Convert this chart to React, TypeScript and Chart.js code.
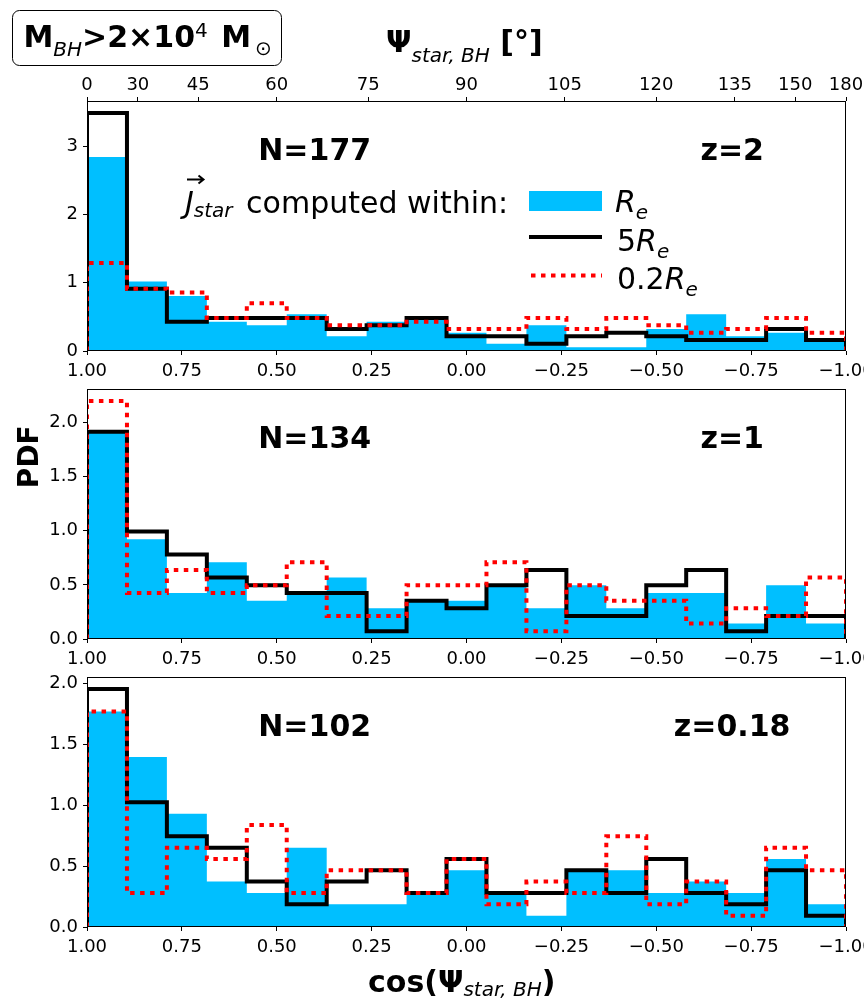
import React, { useEffect, useRef } from "react"
import { Chart, registerables } from "chart.js"

Chart.register(...registerables)

const FONT = '"DejaVu Sans", sans-serif'

// 19 equal bins in cos(psi), from 1 down to -1
const binEdges = [
  1, 0.8947, 0.7895, 0.6842, 0.5789, 0.4737, 0.3684, 0.2632, 0.1579, 0.0526,
  -0.0526, -0.1579, -0.2632, -0.3684, -0.4737, -0.5789, -0.6842, -0.7895, -0.8947, -1,
]

const cosTicks = [1, 0.75, 0.5, 0.25, 0, -0.25, -0.5, -0.75, -1]
const angleTicks = [0, 30, 45, 60, 75, 90, 105, 120, 135, 150, 180]

// z = 2, N = 177
const reZ2 = [2.845, 1.02, 0.805, 0.429, 0.376, 0.537, 0.215, 0.429, 0.483, 0.268, 0.107, 0.376, 0.054, 0.054, 0.322, 0.537, 0.215, 0.268, 0.161]
const fiveReZ2 = [3.489, 0.912, 0.429, 0.483, 0.483, 0.483, 0.322, 0.376, 0.483, 0.215, 0.215, 0.107, 0.215, 0.268, 0.215, 0.161, 0.161, 0.322, 0.161]
const pointTwoReZ2 = [1.288, 0.912, 0.859, 0.483, 0.698, 0.483, 0.376, 0.376, 0.429, 0.322, 0.322, 0.483, 0.322, 0.483, 0.376, 0.268, 0.322, 0.483, 0.268]
const yTicksZ2 = [0, 1, 2, 3]

// z = 1, N = 134
const reZ1 = [1.914, 0.922, 0.425, 0.709, 0.354, 0.425, 0.567, 0.284, 0.354, 0.354, 0.496, 0.284, 0.496, 0.284, 0.425, 0.425, 0.142, 0.496, 0.142]
const fiveReZ1 = [1.914, 0.993, 0.78, 0.567, 0.496, 0.425, 0.425, 0.071, 0.354, 0.284, 0.496, 0.638, 0.213, 0.213, 0.496, 0.638, 0.071, 0.213, 0.213]
const pointTwoReZ1 = [2.198, 0.425, 0.638, 0.425, 0.496, 0.709, 0.213, 0.213, 0.496, 0.496, 0.709, 0.071, 0.496, 0.354, 0.354, 0.142, 0.284, 0.213, 0.567]
const yTicksZ1 = [0, 0.5, 1, 1.5, 2]

// z = 0.18, N = 102
const reZ018 = [1.77, 1.397, 0.931, 0.373, 0.279, 0.652, 0.186, 0.186, 0.279, 0.466, 0.279, 0.093, 0.466, 0.466, 0.279, 0.373, 0.279, 0.559, 0.186]
const fiveReZ018 = [1.956, 1.025, 0.745, 0.652, 0.373, 0.186, 0.373, 0.466, 0.279, 0.559, 0.279, 0.279, 0.466, 0.279, 0.559, 0.279, 0.186, 0.466, 0.093]
const pointTwoReZ018 = [1.77, 0.279, 0.652, 0.559, 0.838, 0.279, 0.466, 0.466, 0.279, 0.559, 0.186, 0.373, 0.279, 0.745, 0.186, 0.373, 0.093, 0.652, 0.466]
const yTicksZ018 = [0, 0.5, 1, 1.5, 2]

const B30 = `bold 30px ${FONT}`
const B28 = `bold 28px ${FONT}`
const R30 = `30px ${FONT}`
const I30 = `italic 30px ${FONT}`
const I20 = `italic 20px ${FONT}`
const R20 = `20px ${FONT}`
const DOTS = [4.5, 5.5]

type Run = { t: string; font: string; dy?: number; dx?: number }

function drawRuns(ctx: CanvasRenderingContext2D, x: number, y: number, runs: Run[], center = false) {
  ctx.save()
  ctx.fillStyle = "#000"
  ctx.textAlign = "left"
  ctx.textBaseline = "alphabetic"
  let w = 0
  for (const r of runs) {
    ctx.font = r.font
    w += ctx.measureText(r.t).width + (r.dx || 0)
  }
  let cx = center ? x - w / 2 : x
  for (const r of runs) {
    ctx.font = r.font
    cx += r.dx || 0
    ctx.fillText(r.t, cx, y + (r.dy || 0))
    cx += ctx.measureText(r.t).width
  }
  ctx.restore()
}

// histogram outline: start and end on the baseline
function steps(vals: number[]) {
  const pts = [{ x: binEdges[0], y: 0 }]
  vals.forEach((v, i) => pts.push({ x: binEdges[i], y: v }))
  pts.push({ x: binEdges[vals.length], y: vals[vals.length - 1] })
  pts.push({ x: binEdges[vals.length], y: 0 })
  return pts
}

const fmtCos = (v: number) => (v < 0 ? "\u2212" : "") + Math.abs(v).toFixed(2)

function drawTopExtras(ctx: CanvasRenderingContext2D) {
  // mass cut box
  ctx.save()
  ctx.beginPath()
  ctx.roundRect(12.5, 10.5, 269, 55, 7)
  ctx.fillStyle = "#fff"
  ctx.fill()
  ctx.lineWidth = 1
  ctx.strokeStyle = "#000"
  ctx.stroke()
  ctx.restore()
  drawRuns(ctx, 23.5, 47, [
    { t: "M", font: B30 },
    { t: "BH", font: I20, dy: 9 },
    { t: ">2\u00d710", font: B30 },
    { t: "4", font: R20, dy: -10 },
    { t: " M", font: B30, dx: 3 },
    { t: "\u2299", font: R20, dy: 8, dx: 4 },
  ])
  // top axis title
  drawRuns(ctx, 386, 51.5, [
    { t: "\u03a8", font: B30 },
    { t: "star, BH", font: I20, dy: 10 },
    { t: " [\u00b0]", font: B30 },
  ])

  // legend
  ctx.save()
  ctx.fillStyle = "#00BFFF"
  ctx.fillRect(529, 191, 73, 20)
  ctx.strokeStyle = "#000"
  ctx.lineWidth = 4
  ctx.beginPath()
  ctx.moveTo(529, 237)
  ctx.lineTo(602, 237)
  ctx.stroke()
  ctx.strokeStyle = "#FF0000"
  ctx.setLineDash(DOTS)
  ctx.lineCap = "butt"
  ctx.beginPath()
  ctx.moveTo(531, 275.5)
  ctx.lineTo(602, 275.5)
  ctx.stroke()
  ctx.setLineDash([])
  // arrow over J
  ctx.strokeStyle = "#000"
  ctx.lineWidth = 2
  ctx.beginPath()
  ctx.moveTo(187, 179.5)
  ctx.lineTo(203, 179.5)
  ctx.moveTo(198.5, 175.5)
  ctx.lineTo(203.5, 179.5)
  ctx.lineTo(198.5, 183.5)
  ctx.stroke()
  ctx.restore()

  drawRuns(ctx, 185, 213, [
    { t: "J", font: I30 },
    { t: "star", font: I20, dy: 4 },
    { t: " computed within:", font: R30, dx: 4 },
  ])
  drawRuns(ctx, 615, 212, [{ t: "R", font: I30 }, { t: "e", font: I20, dy: 7 }])
  drawRuns(ctx, 617, 250.5, [{ t: "5", font: R30 }, { t: "R", font: I30 }, { t: "e", font: I20, dy: 7 }])
  drawRuns(ctx, 617, 289, [{ t: "0.2", font: R30 }, { t: "R", font: I30 }, { t: "e", font: I20, dy: 7 }])
}

function drawPdfLabel(ctx: CanvasRenderingContext2D) {
  ctx.save()
  ctx.translate(37.7, 76.7)
  ctx.rotate(-Math.PI / 2)
  ctx.font = B28
  ctx.fillStyle = "#000"
  ctx.textAlign = "center"
  ctx.textBaseline = "alphabetic"
  ctx.fillText("PDF", 0, 0)
  ctx.restore()
}

function drawBottomTitle(ctx: CanvasRenderingContext2D) {
  drawRuns(ctx, 368, 323.5, [
    { t: "cos(", font: B30 },
    { t: "\u03a8", font: B30 },
    { t: "star, BH", font: I20, dy: 4 },
    { t: ")", font: B30 },
  ])
}

interface PanelProps {
  top: number
  height: number
  padTop: number
  bottomAxis: number
  re: number[]
  fiveRe: number[]
  pointTwoRe: number[]
  yMax: number
  yTicks: number[]
  yDigits: number
  nText: string
  zText: string
  angleAxis?: boolean
  extra?: (ctx: CanvasRenderingContext2D) => void
}

function Panel(props: PanelProps) {
  const ref = useRef<HTMLCanvasElement>(null)
  const { top, height, padTop, bottomAxis, re, fiveRe, pointTwoRe, yMax, yTicks, yDigits, nText, zText, angleAxis, extra } = props

  useEffect(() => {
    if (!ref.current) return

    const tickFont = { family: FONT, size: 18 }
    const tickGrid = { display: true, drawOnChartArea: false, drawTicks: true, tickLength: 4, tickColor: "#000", tickWidth: 1 }

    const scales: any = {
      x: {
        type: "linear",
        position: "bottom",
        min: -1,
        max: 1,
        reverse: true,
        afterBuildTicks: (s: any) => {
          s.ticks = cosTicks.map((v) => ({ value: v }))
        },
        afterFit: (s: any) => {
          s.height = bottomAxis
          s.paddingLeft = 0
          s.paddingRight = 0
        },
        ticks: { autoSkip: false, maxRotation: 0, minRotation: 0, padding: 6, color: "#000", font: tickFont, callback: (v: number) => fmtCos(v) },
        grid: tickGrid,
        border: { display: false },
      },
      y: {
        type: "linear",
        position: "left",
        min: 0,
        max: yMax,
        afterBuildTicks: (s: any) => {
          s.ticks = yTicks.map((v) => ({ value: v }))
        },
        afterFit: (s: any) => {
          s.width = 87
          s.paddingTop = 0
          s.paddingBottom = 0
        },
        ticks: { padding: 5, color: "#000", font: tickFont, callback: (v: number) => v.toFixed(yDigits) },
        grid: tickGrid,
        border: { display: false },
      },
    }
    if (angleAxis) {
      scales.xTop = {
        type: "linear",
        position: "top",
        min: -1,
        max: 1,
        reverse: true,
        afterBuildTicks: (s: any) => {
          s.ticks = angleTicks.map((a) => ({ value: Math.cos((a * Math.PI) / 180) }))
        },
        afterFit: (s: any) => {
          s.height = 101
          s.paddingLeft = 0
          s.paddingRight = 0
        },
        ticks: { autoSkip: false, maxRotation: 0, minRotation: 0, padding: 1, color: "#000", font: tickFont, callback: (_v: number, i: number) => String(angleTicks[i]) },
        grid: tickGrid,
        border: { display: false },
      }
    }

    const annotate = {
      id: "annotate",
      afterDraw(chart: any) {
        const ctx: CanvasRenderingContext2D = chart.ctx
        const a = chart.chartArea
        const w = a.right - a.left
        const h = a.bottom - a.top
        ctx.save()
        ctx.strokeStyle = "#000"
        ctx.lineWidth = 1
        ctx.strokeRect(a.left + 0.5, a.top + 0.5, w - 1, h - 1)
        ctx.restore()
        const ty = a.bottom - 0.81 * h + 11
        drawRuns(ctx, a.left + 0.3 * w, ty, [{ t: nText, font: B30 }], true)
        drawRuns(ctx, a.left + 0.85 * w, ty, [{ t: zText, font: B30 }], true)
        if (extra) extra(ctx)
      },
    }

    const chart = new Chart(ref.current, {
      type: "line",
      data: {
        datasets: [
          {
            label: "Re",
            data: steps(re),
            xAxisID: "x",
            yAxisID: "y",
            stepped: "before",
            fill: "origin",
            backgroundColor: "#00BFFF",
            borderColor: "rgba(0,0,0,0)",
            borderWidth: 1,
            pointRadius: 0,
            order: 2,
          },
          {
            label: "5Re",
            data: steps(fiveRe),
            xAxisID: "x",
            yAxisID: "y",
            stepped: "before",
            fill: false,
            borderColor: "#000",
            borderWidth: 4,
            borderJoinStyle: "miter",
            pointRadius: 0,
            order: 1,
          },
          {
            label: "0.2Re",
            data: steps(pointTwoRe),
            xAxisID: "x",
            yAxisID: "y",
            stepped: "before",
            fill: false,
            borderColor: "#FF0000",
            borderWidth: 4,
            borderDash: DOTS,
            borderCapStyle: "butt",
            borderJoinStyle: "miter",
            pointRadius: 0,
            order: 0,
          },
        ],
      } as any,
      options: {
        responsive: false,
        maintainAspectRatio: false,
        animation: false,
        events: [],
        layout: { autoPadding: false, padding: { left: 0, right: 18, top: padTop, bottom: 0 } },
        plugins: { legend: { display: false }, tooltip: { enabled: false } },
        scales,
      } as any,
      plugins: [annotate],
    })

    return () => {
      chart.destroy()
    }
  }, [])

  return <canvas ref={ref} width={864} height={height} style={{ position: "absolute", left: 0, top, display: "block" }} />
}

export default function App() {
  return (
    <div style={{ position: "absolute", left: 0, top: 0, width: 864, height: 1008, background: "#fff", overflow: "hidden" }}>
      <Panel
        top={0}
        height={380}
        padTop={0}
        bottomAxis={29}
        re={reZ2}
        fiveRe={fiveReZ2}
        pointTwoRe={pointTwoReZ2}
        yMax={3.664}
        yTicks={yTicksZ2}
        yDigits={0}
        nText="N=177"
        zText="z=2"
        angleAxis
        extra={drawTopExtras}
      />
      <Panel
        top={380}
        height={288}
        padTop={9}
        bottomAxis={29}
        re={reZ1}
        fiveRe={fiveReZ1}
        pointTwoRe={pointTwoReZ1}
        yMax={2.308}
        yTicks={yTicksZ1}
        yDigits={1}
        nText="N=134"
        zText="z=1"
        extra={drawPdfLabel}
      />
      <Panel
        top={668}
        height={340}
        padTop={9}
        bottomAxis={81}
        re={reZ018}
        fiveRe={fiveReZ018}
        pointTwoRe={pointTwoReZ018}
        yMax={2.054}
        yTicks={yTicksZ018}
        yDigits={1}
        nText="N=102"
        zText="z=0.18"
        extra={drawBottomTitle}
      />
    </div>
  )
}
